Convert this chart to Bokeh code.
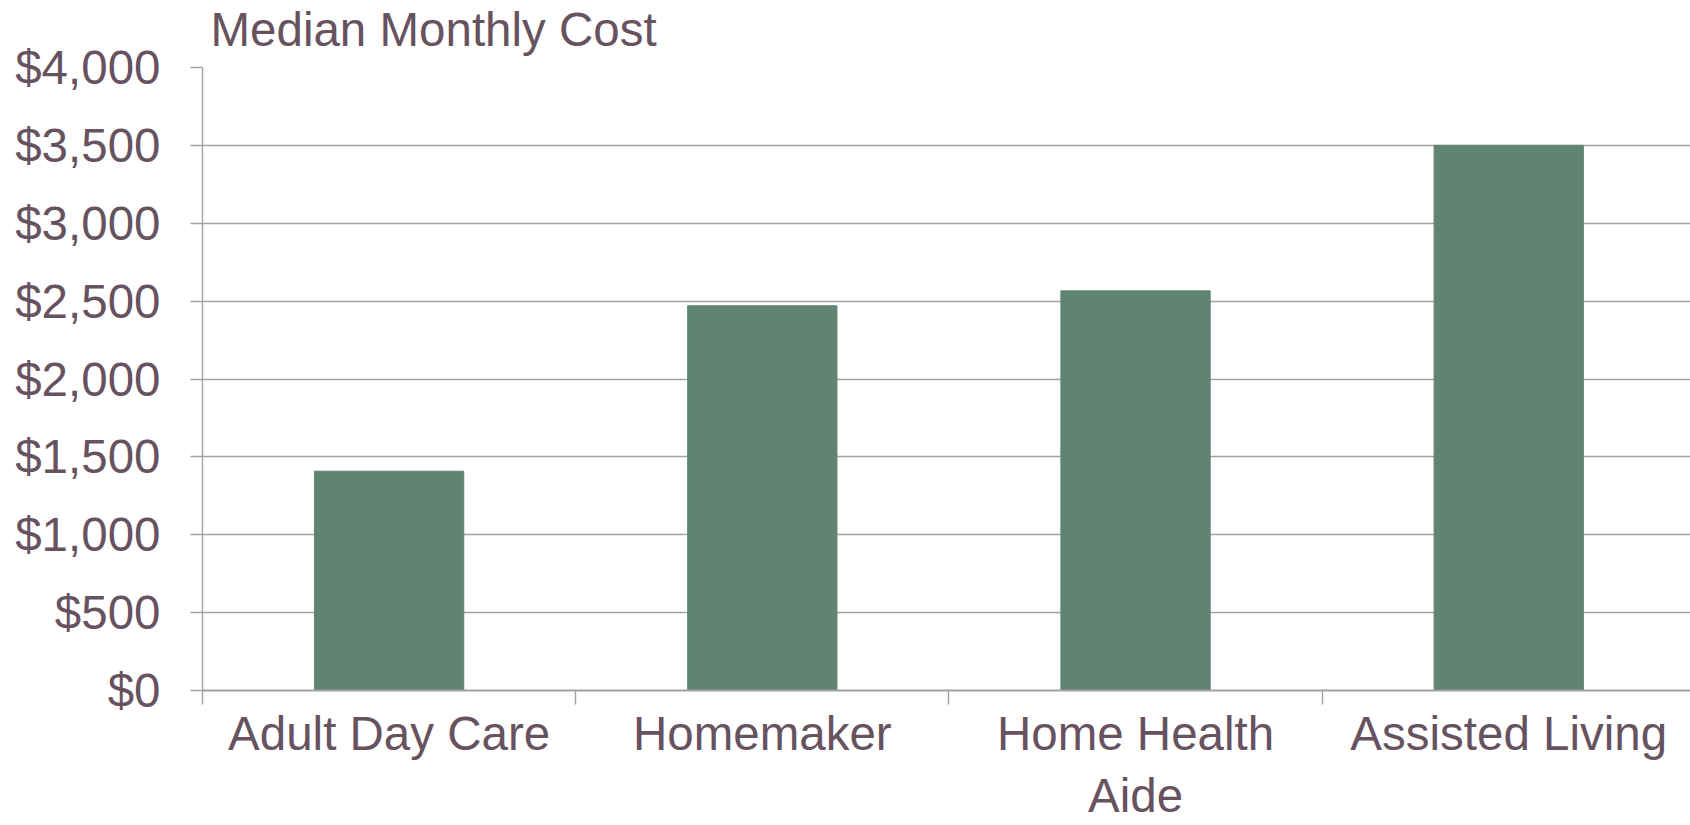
from bokeh.plotting import figure
from bokeh.models import Range1d, FixedTicker, NumeralTickFormatter, ColumnDataSource, Title
from bokeh.embed import file_html
from bokeh.resources import INLINE

# ---- data ----
categories = ["Adult Day Care", "Homemaker", "Home Health Aide", "Assisted Living"]
tick_labels = ["Adult Day Care", "Homemaker", "Home Health\nAide", "Assisted Living"]
median_monthly_cost = [1408, 2470, 2566, 3500]
y_ticks = [0, 500, 1000, 1500, 2000, 2500, 3000, 3500, 4000]
title_text = "Median Monthly Cost"

# ---- style ----
TEXT = "#675360"
GRID = "#A6A0A4"
BAR = "#5F8473"
FONT = "Liberation Sans"
FS = "47.5px"

n = len(categories)
centers = [i + 0.5 for i in range(n)]
bounds = [float(i) for i in range(n)]
y_max = y_ticks[-1]

src = ColumnDataSource(dict(x=centers, top=median_monthly_cost, cat=categories))

p = figure(width=1690, height=825, output_backend="svg", toolbar_location=None,
           x_range=Range1d(0, 3.987), y_range=Range1d(0, y_max),
           min_border_left=202, min_border_right=0, min_border_top=0, min_border_bottom=0)

p.vbar(x="x", top="top", width=0.4, source=src, fill_color=BAR, line_color=BAR)

p.outline_line_color = None
p.xgrid.grid_line_color = None
p.ygrid.grid_line_color = GRID
p.ygrid.grid_line_width = 1.4
p.ygrid.ticker = FixedTicker(ticks=y_ticks)

# title
p.title.text = title_text
p.title.text_font = FONT
p.title.text_font_size = FS
p.title.text_font_style = "normal"
p.title.text_color = TEXT
p.title.align = "left"
p.title.offset = 8
p.title.standoff = 0

# small spacer between title and plot area
p.add_layout(Title(text=" ", text_font_size="9px", standoff=0), "above")

# y axis
ya = p.yaxis[0]
ya.ticker = FixedTicker(ticks=y_ticks)
ya.formatter = NumeralTickFormatter(format="$0,0")
ya.axis_line_color = GRID
ya.axis_line_width = 1.4
ya.major_tick_line_color = GRID
ya.major_tick_line_width = 1.4
ya.major_tick_out = 12
ya.major_tick_in = 0
ya.minor_tick_line_color = None
ya.major_label_standoff = 30
ya.major_label_text_font = FONT
ya.major_label_text_font_size = FS
ya.major_label_text_color = TEXT

# x axis: labels at centers, tick marks at category boundaries
xa = p.xaxis[0]
xa.ticker = FixedTicker(ticks=centers, minor_ticks=bounds)
xa.major_label_overrides = {c: lab for c, lab in zip(centers, tick_labels)}
xa.axis_line_color = GRID
xa.axis_line_width = 1.8
xa.major_tick_line_color = None
xa.major_tick_out = 0
xa.major_tick_in = 0
xa.minor_tick_line_color = GRID
xa.minor_tick_line_width = 1.4
xa.minor_tick_out = 14
xa.minor_tick_in = 0
xa.major_label_standoff = 2
xa.major_label_text_font = FONT
xa.major_label_text_font_size = FS
xa.major_label_text_color = TEXT
xa.major_label_text_line_height = 1.18

open("out.html", "w").write(file_html(p, INLINE))
